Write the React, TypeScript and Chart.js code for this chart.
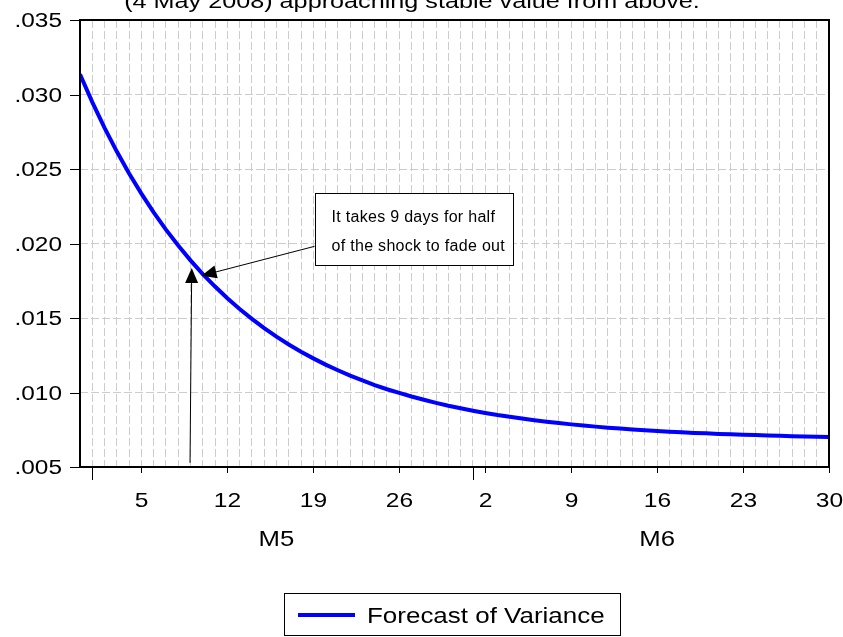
import React, { useEffect, useRef } from "react";
import { Chart, registerables } from "chart.js";

Chart.register(...registerables);

// ---- data (day index 0 = 30 Apr 2008, 61 = 30 Jun 2008) ----
const VARIANCE = [
  0.03135, 0.02949, 0.02776, 0.02617, 0.0247, 0.02335, 0.02209, 0.02093, 0.01986, 0.01887,
  0.01795, 0.01711, 0.01633, 0.0156, 0.01494, 0.01432, 0.01375, 0.01322, 0.01274, 0.01229,
  0.01187, 0.01149, 0.01113, 0.01081, 0.0105, 0.01022, 0.00997, 0.00973, 0.00951, 0.0093,
  0.00911, 0.00894, 0.00878, 0.00863, 0.00849, 0.00837, 0.00825, 0.00814, 0.00804, 0.00795,
  0.00786, 0.00778, 0.00771, 0.00764, 0.00758, 0.00752, 0.00747, 0.00742, 0.00737, 0.00733,
  0.00729, 0.00726, 0.00722, 0.00719, 0.00716, 0.00714, 0.00711, 0.00709, 0.00707, 0.00705,
  0.00703, 0.00702,
];
const SERIES_LABEL = "Forecast of Variance";

const Y_TICKS = [0.005, 0.01, 0.015, 0.02, 0.025, 0.03, 0.035];
const Y_TICK_LABELS = [".005", ".010", ".015", ".020", ".025", ".030", ".035"];

const X_TICK_DAYS = [5, 12, 19, 26, 33, 40, 47, 54, 61];
const X_TICK_LABELS = ["5", "12", "19", "26", "2", "9", "16", "23", "30"];
const MONTH_START_DAYS = [1, 32];
const MONTH_LABEL_DAYS = [16, 47];
const MONTH_LABELS = ["M5", "M6"];

const TITLE_LINE = "(4 May 2008) approaching stable value from above.";
const NOTE_LINES = ["It takes 9 days for half", "of the shock to fade out"];
// annotation anchors in data coordinates [day, value]
const NOTE_BOX_TL = [19.1, 0.0234];
const NOTE_BOX_BR = [35.3, 0.01858];
const ARROW_1 = [[19.1, 0.01981], [9.9, 0.01784]];
const ARROW_2 = [[8.96, 0.00528], [9.1, 0.01836]];

const FONT = '"Liberation Sans", Arial, Helvetica, sans-serif';

function drawText(
  ctx: CanvasRenderingContext2D,
  text: string,
  x: number,
  y: number,
  size: number,
  align: "left" | "center" | "right",
  sx: number,
  spacing = "0px"
) {
  ctx.save();
  ctx.font = `${size}px ${FONT}`;
  (ctx as any).letterSpacing = spacing;
  ctx.fillStyle = "#000";
  ctx.textBaseline = "alphabetic";
  ctx.textAlign = "left";
  const w = ctx.measureText(text).width * sx;
  const left = align === "center" ? x - w / 2 : align === "right" ? x - w : x;
  ctx.translate(left, y);
  ctx.scale(sx, 1);
  ctx.fillText(text, 0, 0);
  ctx.restore();
}

function drawArrow(ctx: CanvasRenderingContext2D, x1: number, y1: number, x2: number, y2: number) {
  const head = 15;
  const half = 6.5;
  const a = Math.atan2(y2 - y1, x2 - x1);
  const c = Math.cos(a);
  const s = Math.sin(a);
  const bx = x2 - head * c;
  const by = y2 - head * s;
  ctx.save();
  ctx.strokeStyle = "#000";
  ctx.fillStyle = "#000";
  ctx.lineWidth = 1;
  ctx.beginPath();
  ctx.moveTo(x1, y1);
  ctx.lineTo(bx, by);
  ctx.stroke();
  ctx.beginPath();
  ctx.moveTo(x2, y2);
  ctx.lineTo(bx + half * s, by - half * c);
  ctx.lineTo(bx - half * s, by + half * c);
  ctx.closePath();
  ctx.fill();
  ctx.restore();
}

const decorPlugin = {
  id: "decor",
  afterDraw(chart: any) {
    const ctx: CanvasRenderingContext2D = chart.ctx;
    const { left, right, top, bottom } = chart.chartArea;
    const xs = chart.scales.x;
    const ys = chart.scales.y;

    // frame
    ctx.save();
    ctx.strokeStyle = "#000";
    ctx.lineWidth = 2;
    ctx.strokeRect(left, top, right - left, bottom - top);
    ctx.restore();

    // y ticks + labels
    ctx.save();
    ctx.strokeStyle = "#000";
    ctx.lineWidth = 1;
    Y_TICKS.forEach((v, i) => {
      const py = Math.round(ys.getPixelForValue(v)) + 0.5;
      ctx.beginPath();
      ctx.moveTo(left - 10, py);
      ctx.lineTo(left, py);
      ctx.stroke();
      drawText(ctx, Y_TICK_LABELS[i], left - 18, py + 6.5, 20, "right", 1.22);
    });
    // x ticks + labels
    X_TICK_DAYS.forEach((d, i) => {
      const px = Math.round(xs.getPixelForValue(d)) + 0.5;
      ctx.beginPath();
      ctx.moveTo(px, bottom);
      ctx.lineTo(px, bottom + 6);
      ctx.stroke();
      drawText(ctx, X_TICK_LABELS[i], px, bottom + 39.5, 21, "center", 1.17);
    });
    MONTH_START_DAYS.forEach((d) => {
      const px = Math.round(xs.getPixelForValue(d)) + 0.5;
      ctx.beginPath();
      ctx.moveTo(px, bottom);
      ctx.lineTo(px, bottom + 13);
      ctx.stroke();
    });
    MONTH_LABEL_DAYS.forEach((d, i) => {
      drawText(ctx, MONTH_LABELS[i], xs.getPixelForValue(d), bottom + 79, 22, "center", 1.17);
    });
    ctx.restore();

    // clipped title line
    drawText(ctx, TITLE_LINE, 412, 8, 21, "center", 1.2);

    // annotation box
    const bx0 = Math.round(xs.getPixelForValue(NOTE_BOX_TL[0])) + 0.5;
    const by0 = Math.round(ys.getPixelForValue(NOTE_BOX_TL[1])) + 0.5;
    const bx1 = Math.round(xs.getPixelForValue(NOTE_BOX_BR[0])) + 0.5;
    const by1 = Math.round(ys.getPixelForValue(NOTE_BOX_BR[1])) + 0.5;
    ctx.save();
    ctx.fillStyle = "#fff";
    ctx.strokeStyle = "#000";
    ctx.lineWidth = 1;
    ctx.fillRect(bx0, by0, bx1 - bx0, by1 - by0);
    ctx.strokeRect(bx0, by0, bx1 - bx0, by1 - by0);
    ctx.restore();
    NOTE_LINES.forEach((t, i) => {
      drawText(ctx, t, bx0 + 16, by0 + 28 + i * 29, 16, "left", 1.0, "0.3px");
    });

    // arrows
    [ARROW_1, ARROW_2].forEach(([from, to]) => {
      drawArrow(
        ctx,
        xs.getPixelForValue(from[0]),
        ys.getPixelForValue(from[1]),
        xs.getPixelForValue(to[0]),
        ys.getPixelForValue(to[1])
      );
    });

    // legend
    ctx.save();
    ctx.strokeStyle = "#000";
    ctx.lineWidth = 1;
    ctx.strokeRect(284.5, 593.5, 336, 42);
    ctx.strokeStyle = "#0000ff";
    ctx.lineWidth = 4;
    ctx.beginPath();
    ctx.moveTo(298, 615);
    ctx.lineTo(355, 615);
    ctx.stroke();
    ctx.restore();
    drawText(ctx, SERIES_LABEL, 367, 623, 22, "left", 1.18);
  },
};

export default function App() {
  const ref = useRef<HTMLCanvasElement | null>(null);

  useEffect(() => {
    if (!ref.current) return;
    const gridColor = "#cccccc";
    const chart = new Chart(ref.current, {
      type: "line",
      data: {
        datasets: [
          {
            label: SERIES_LABEL,
            data: VARIANCE.map((v, i) => ({ x: i, y: v })),
            borderColor: "#0000ff",
            borderWidth: 4,
            pointRadius: 0,
            fill: false,
            tension: 0,
          },
        ],
      },
      options: {
        animation: false,
        responsive: false,
        maintainAspectRatio: false,
        devicePixelRatio: 1,
        layout: { padding: { left: 80, top: 20, right: 14, bottom: 170 } },
        plugins: {
          legend: { display: false },
          title: { display: false },
          tooltip: { enabled: false },
        },
        scales: {
          x: {
            type: "linear",
            min: 0,
            max: VARIANCE.length - 1,
            ticks: { display: false, stepSize: 1 },
            grid: { color: gridColor, lineWidth: 1, drawTicks: false },
            border: { display: false, dash: [8, 3] },
            afterFit: (s: any) => {
              s.height = 0;
            },
          },
          y: {
            type: "linear",
            min: 0.005,
            max: 0.035,
            ticks: { display: false, stepSize: 0.005 },
            grid: { color: gridColor, lineWidth: 1, drawTicks: false },
            border: { display: false, dash: [8, 3] },
            afterFit: (s: any) => {
              s.width = 0;
            },
          },
        },
      } as any,
      plugins: [decorPlugin],
    });
    return () => chart.destroy();
  }, []);

  return (
    <div style={{ position: "fixed", left: 0, top: 0, width: 843, height: 637, background: "#fff" }}>
      <canvas ref={ref} width={843} height={637} style={{ display: "block" }} />
    </div>
  );
}
